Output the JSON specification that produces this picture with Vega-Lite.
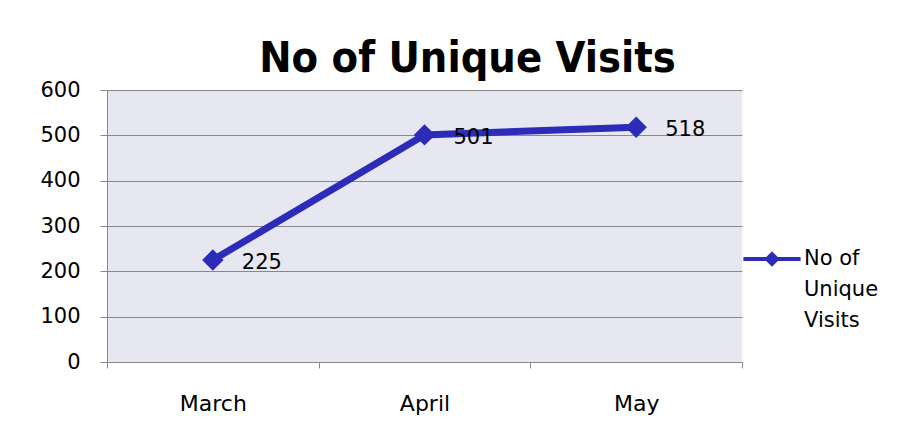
{
  "$schema": "https://vega.github.io/schema/vega-lite/v6.json",
  "width": 635,
  "height": 272,
  "autosize": "none",
  "padding": {"left": 107, "top": 90, "right": 176, "bottom": 60},
  "background": "white",
  "title": {
    "text": "No of Unique Visits",
    "font": "DejaVu Sans Condensed",
    "fontSize": 43,
    "fontWeight": "bold",
    "color": "black",
    "anchor": "middle",
    "dx": 43,
    "offset": -2
  },
  "data": {
    "values": [
      {"month": "March", "visits": 225, "series": "No of Unique Visits"},
      {"month": "April", "visits": 501, "series": "No of Unique Visits"},
      {"month": "May", "visits": 518, "series": "No of Unique Visits"}
    ]
  },
  "encoding": {
    "x": {
      "field": "month",
      "type": "ordinal",
      "sort": ["March", "April", "May"],
      "scale": {"type": "band", "paddingInner": 0, "paddingOuter": 0},
      "axis": {
        "title": null,
        "labelAngle": 0,
        "tickBand": "extent",
        "tickSize": 6,
        "tickColor": "#888",
        "domainColor": "#888",
        "labelFont": "DejaVu Sans",
        "labelFontSize": 22,
        "labelColor": "black",
        "labelPadding": 25,
        "grid": false
      }
    },
    "y": {
      "field": "visits",
      "type": "quantitative",
      "scale": {"domain": [0, 600], "nice": false},
      "axis": {
        "title": null,
        "values": [0, 100, 200, 300, 400, 500, 600],
        "grid": true,
        "gridColor": "#888",
        "tickColor": "#888",
        "domainColor": "#888",
        "tickSize": 7,
        "labelPadding": 20,
        "labelFont": "DejaVu Sans",
        "labelFontSize": 21,
        "labelColor": "black"
      }
    }
  },
  "layer": [
    {
      "mark": {"type": "line", "strokeWidth": 7},
      "encoding": {
        "color": {
          "field": "series",
          "type": "nominal",
          "scale": {"range": ["#2C2CB9"]},
          "legend": {
            "title": null,
            "orient": "none",
            "legendX": 652,
            "legendY": 156,
            "symbolType": "M-2.6,0H2.6M0,-0.45L0.45,0L0,0.45L-0.45,0Z",
            "symbolSize": 484,
            "symbolStrokeWidth": 4,
            "symbolFillColor": "#2C2CB9",
            "symbolStrokeColor": "#2C2CB9",
            "labelExpr": "['No of', 'Unique', 'Visits']",
            "labelFont": "DejaVu Sans",
            "labelFontSize": 21,
            "labelColor": "black",
            "labelOffset": 19,
            "labelLimit": 200,
            "labelBaseline": "middle",
            "labelAlign": "left",
            "encode": {
              "labels": {
                "update": {
                  "lineHeight": {"value": 31}
                }
              }
            }
          }
        }
      }
    },
    {
      "mark": {"type": "point", "shape": "diamond", "filled": true, "size": 460, "opacity": 1, "color": "#2C2CB9"}
    },
    {
      "mark": {"type": "text", "align": "left", "baseline": "middle", "dx": 29, "dy": 3, "font": "DejaVu Sans", "fontSize": 21, "color": "black"},
      "encoding": {"text": {"field": "visits", "type": "quantitative"}}
    }
  ],
  "config": {
    "view": {"fill": "#E7E7F1", "stroke": null}
  }
}
